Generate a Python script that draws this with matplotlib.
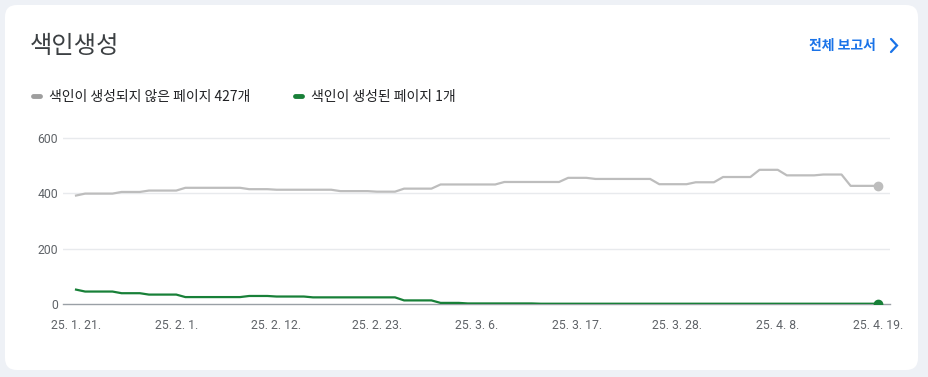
import matplotlib
matplotlib.use("Agg")
import matplotlib.pyplot as plt
import numpy as np
import pandas as pd
from matplotlib.patches import FancyBboxPatch
from matplotlib.lines import Line2D

plt.rcParams['font.family'] = ['Noto Sans CJK KR', 'DejaVu Sans']

# ---- data ----
title = "색인생성"
link_text = "전체 보고서"
series_names = ["색인이 생성되지 않은 페이지 427개", "색인이 생성된 페이지 1개"]
dates = pd.date_range("2025-01-21", "2025-04-19", freq="D")
not_indexed = ([392] + [399]*4 + [405]*3 + [410]*4 + [420]*7 + [415]*3 + [413]*7
               + [408]*4 + [406]*3 + [417]*4 + [432]*7 + [441]*7 + [456]*3 + [452]*7
               + [433]*4 + [440]*3 + [459]*4 + [485]*3 + [465]*4 + [468]*3 + [427]*4)
indexed = ([52] + [45]*4 + [39]*3 + [34]*4 + [25]*7 + [29]*3 + [27]*4 + [24]*10
           + [13]*4 + [4]*3 + [2]*8 + [1]*38)
tick_dates = ["2025-01-21", "2025-02-01", "2025-02-12", "2025-02-23", "2025-03-06",
              "2025-03-17", "2025-03-28", "2025-04-08", "2025-04-19"]
tick_labels = ["25. 1. 21.", "25. 2. 1.", "25. 2. 12.", "25. 2. 23.", "25. 3. 6.",
               "25. 3. 17.", "25. 3. 28.", "25. 4. 8.", "25. 4. 19."]
y_ticks = [0, 200, 400, 600]

gray_c = "#bdbdbd"
gray_leg = "#9e9e9e"
green_c = "#188038"

W, H = 929, 377
fig = plt.figure(figsize=(W/100, H/100), dpi=100)
fig.patch.set_facecolor("#eef1f6")

def px(x, y):
    return (x/100, (H - y)/100)

# card
card = FancyBboxPatch(px(5, 370), (918-5)/100, (370-5)/100,
                      boxstyle="round,pad=0,rounding_size=0.12",
                      transform=fig.dpi_scale_trans, facecolor="white",
                      edgecolor="none", zorder=-5)
fig.patches.append(card)

# header
fig.text(*px(30, 46), title, transform=fig.dpi_scale_trans, fontsize=17.5,
         color="#3c4043", va="center", ha="left")
fig.text(*px(876, 46), link_text, transform=fig.dpi_scale_trans, fontsize=10,
         color="#1a73e8", va="center", ha="right", fontweight="bold")
chev = Line2D([891/100, 897/100, 891/100], [(H-39)/100, (H-45.5)/100, (H-52)/100],
              transform=fig.dpi_scale_trans, color="#1a73e8", lw=1.6,
              solid_capstyle="round", solid_joinstyle="miter")
fig.add_artist(chev)

# legend
for (x0, name, col) in [(31, series_names[0], gray_leg), (293, series_names[1], green_c)]:
    ln = Line2D([(x0+2)/100, (x0+9)/100], [(H-96)/100]*2, transform=fig.dpi_scale_trans,
                color=col, lw=3.5, solid_capstyle="round")
    fig.add_artist(ln)
    fig.text(*px(x0+18, 97), name, transform=fig.dpi_scale_trans, fontsize=10,
             color="#202124", va="center", ha="left")

# axes
ax = fig.add_axes([63/W, 1-304/H, (890-63)/W, (304-129.7)/H])
ax.set_facecolor("none")
ax.plot(dates, not_indexed, color=gray_c, lw=1.6, zorder=3)
ax.plot(dates, indexed, color=green_c, lw=1.6, zorder=3)
ax.plot(dates[-1:], not_indexed[-1:], "o", color=gray_c, ms=6, zorder=4)
ax.plot(dates[-1:], indexed[-1:], "o", color=green_c, ms=6, zorder=4)

x0 = dates[0] - pd.Timedelta(days=1.43)
x1 = dates[-1] + pd.Timedelta(days=1.32)
ax.set_xlim(x0, x1)
ax.set_ylim(0, 630)
ax.set_yticks(y_ticks)
ax.set_yticklabels([str(v) for v in y_ticks])
ax.set_xticks(pd.to_datetime(tick_dates))
ax.set_xticklabels(tick_labels)
for v in y_ticks[1:]:
    ax.axhline(v, color="#e8eaed", lw=1, zorder=1)
for s in ["top", "right", "left"]:
    ax.spines[s].set_visible(False)
ax.spines["bottom"].set_color("#9aa0a6")
ax.spines["bottom"].set_linewidth(1)
ax.tick_params(axis="both", length=0, colors="#5f6368", labelsize=8.8)
ax.tick_params(axis="y", pad=3.5)
ax.tick_params(axis="x", pad=11)
for lbl in ax.get_xticklabels() + ax.get_yticklabels():
    lbl.set_fontfamily(["Roboto", "DejaVu Sans"])

fig.savefig("out.png", dpi=100, facecolor=fig.get_facecolor())
